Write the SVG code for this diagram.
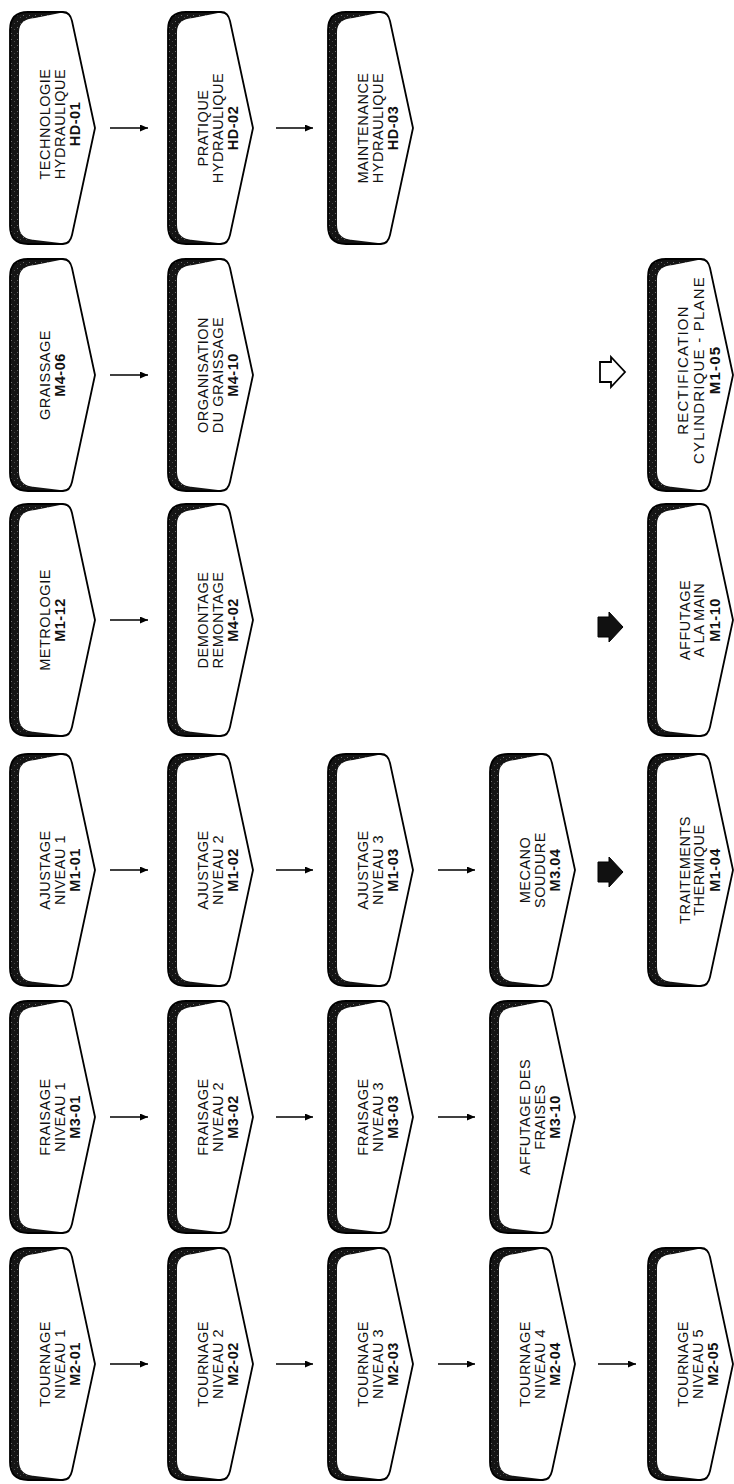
<svg xmlns="http://www.w3.org/2000/svg" xmlns:xlink="http://www.w3.org/1999/xlink" width="734" height="1484" viewBox="0 0 734 1484">
<style>
.shadow{fill:url(#stip);}
.body{fill:#ffffff;}
.outline{fill:none;stroke:#000;stroke-width:1.8;stroke-linejoin:round;}
.t{font-family:"Liberation Sans",Arial,Helvetica,sans-serif;font-size:14.5px;text-anchor:middle;letter-spacing:0.5px;fill:#111;}
.c{font-weight:bold;}
.big{font-size:15px;letter-spacing:1.2px;}
.conn{stroke:#000;stroke-width:1.3;fill:none;}
.blk{fill:#111;stroke:#000;stroke-width:1;}
.blk-o{fill:#fff;stroke:#000;stroke-width:1.8;}
</style>
<defs>
<pattern id="stip" width="6" height="6" patternUnits="userSpaceOnUse">
<rect width="6" height="6" fill="#141414"/>
<rect x="1" y="1" width="1" height="1" fill="#6e6e6e"/>
<rect x="4" y="3" width="1" height="1" fill="#4a4a4a"/>
</pattern>
<path id="outer" d="M 18,-116 L 53,-116 Q 60,-116 62,-107 L 85,0 L 62,107 Q 60,116 53,116 L 18,116 Q 0,116 0,98 L 0,-98 Q 0,-116 18,-116 Z"/>
<path id="inner" d="M 9,-96 Q 9,-109 25,-110 L 50,-115 Q 60,-116 62,-107 L 85,0 L 62,107 Q 60,116 50,115 L 25,112 Q 9,111 9,97 Z"/>
<path id="block" d="M -13,-10 L -2,-10 L -2,-15 L 12,0 L -2,15 L -2,10 L -13,10 Z"/>
<marker id="ah" markerWidth="8" markerHeight="7" refX="8" refY="3.5" orient="auto" markerUnits="userSpaceOnUse">
<path d="M0,0 L8,3.5 L0,7 Z" fill="#000"/>
</marker>
</defs>
<rect width="734" height="1484" fill="#fff"/>

<!-- Row 1 -->
<g id="n-hd01" transform="translate(10,128)"><use href="#outer" class="shadow"/><use href="#inner" class="body"/><use href="#outer" class="outline"/>
<text class="t" transform="rotate(-90)"><tspan x="4" y="40">TECHNOLOGIE</tspan><tspan x="4" y="55">HYDRAULIQUE</tspan><tspan x="4" y="70" class="c">HD-01</tspan></text></g>
<g id="n-hd02" transform="translate(168,128)"><use href="#outer" class="shadow"/><use href="#inner" class="body"/><use href="#outer" class="outline"/>
<text class="t" transform="rotate(-90)"><tspan x="0" y="40">PRATIQUE</tspan><tspan x="0" y="55">HYDRAULIQUE</tspan><tspan x="0" y="70" class="c">HD-02</tspan></text></g>
<g id="n-hd03" transform="translate(328,128)"><use href="#outer" class="shadow"/><use href="#inner" class="body"/><use href="#outer" class="outline"/>
<text class="t" transform="rotate(-90)"><tspan x="0" y="40">MAINTENANCE</tspan><tspan x="0" y="55">HYDRAULIQUE</tspan><tspan x="0" y="70" class="c">HD-03</tspan></text></g>

<!-- Row 2 -->
<g id="n-m406" transform="translate(10,375)"><use href="#outer" class="shadow"/><use href="#inner" class="body"/><use href="#outer" class="outline"/>
<text class="t" transform="rotate(-90)"><tspan x="0" y="40">GRAISSAGE</tspan><tspan x="0" y="55" class="c">M4-06</tspan></text></g>
<g id="n-m410" transform="translate(168,375)"><use href="#outer" class="shadow"/><use href="#inner" class="body"/><use href="#outer" class="outline"/>
<text class="t" transform="rotate(-90)"><tspan x="0" y="40">ORGANISATION</tspan><tspan x="0" y="55">DU GRAISSAGE</tspan><tspan x="0" y="70" class="c">M4-10</tspan></text></g>
<g id="n-m105" transform="translate(648,375)"><use href="#outer" class="shadow"/><use href="#inner" class="body"/><use href="#outer" class="outline"/>
<text class="t big" transform="rotate(-90)"><tspan x="5" y="40">RECTIFICATION</tspan><tspan x="5" y="56">CYLINDRIQUE - PLANE</tspan><tspan x="5" y="72" class="c">M1-05</tspan></text></g>

<!-- Row 3 -->
<g id="n-m112" transform="translate(10,620)"><use href="#outer" class="shadow"/><use href="#inner" class="body"/><use href="#outer" class="outline"/>
<text class="t" transform="rotate(-90)"><tspan x="0" y="40">METROLOGIE</tspan><tspan x="0" y="55" class="c">M1-12</tspan></text></g>
<g id="n-m402" transform="translate(168,620)"><use href="#outer" class="shadow"/><use href="#inner" class="body"/><use href="#outer" class="outline"/>
<text class="t" transform="rotate(-90)"><tspan x="0" y="40">DEMONTAGE</tspan><tspan x="0" y="55">REMONTAGE</tspan><tspan x="0" y="70" class="c">M4-02</tspan></text></g>
<g id="n-m110" transform="translate(648,620)"><use href="#outer" class="shadow"/><use href="#inner" class="body"/><use href="#outer" class="outline"/>
<text class="t" transform="rotate(-90)"><tspan x="0" y="42">AFFUTAGE</tspan><tspan x="0" y="56">A LA MAIN</tspan><tspan x="0" y="72" class="c">M1-10</tspan></text></g>

<!-- Row 4 -->
<g id="n-m101" transform="translate(10,870)"><use href="#outer" class="shadow"/><use href="#inner" class="body"/><use href="#outer" class="outline"/>
<text class="t" transform="rotate(-90)"><tspan x="0" y="40">AJUSTAGE</tspan><tspan x="0" y="55">NIVEAU 1</tspan><tspan x="0" y="70" class="c">M1-01</tspan></text></g>
<g id="n-m102" transform="translate(168,870)"><use href="#outer" class="shadow"/><use href="#inner" class="body"/><use href="#outer" class="outline"/>
<text class="t" transform="rotate(-90)"><tspan x="0" y="40">AJUSTAGE</tspan><tspan x="0" y="55">NIVEAU 2</tspan><tspan x="0" y="70" class="c">M1-02</tspan></text></g>
<g id="n-m103" transform="translate(328,870)"><use href="#outer" class="shadow"/><use href="#inner" class="body"/><use href="#outer" class="outline"/>
<text class="t" transform="rotate(-90)"><tspan x="0" y="40">AJUSTAGE</tspan><tspan x="0" y="55">NIVEAU 3</tspan><tspan x="0" y="70" class="c">M1-03</tspan></text></g>
<g id="n-m304" transform="translate(490,870)"><use href="#outer" class="shadow"/><use href="#inner" class="body"/><use href="#outer" class="outline"/>
<text class="t" transform="rotate(-90)"><tspan x="0" y="40">MECANO</tspan><tspan x="0" y="55">SOUDURE</tspan><tspan x="0" y="70" class="c">M3.04</tspan></text></g>
<g id="n-m104" transform="translate(648,870)"><use href="#outer" class="shadow"/><use href="#inner" class="body"/><use href="#outer" class="outline"/>
<text class="t" transform="rotate(-90)"><tspan x="0" y="42">TRAITEMENTS</tspan><tspan x="0" y="56">THERMIQUE</tspan><tspan x="0" y="72" class="c">M1-04</tspan></text></g>

<!-- Row 5 -->
<g id="n-m301" transform="translate(10,1117)"><use href="#outer" class="shadow"/><use href="#inner" class="body"/><use href="#outer" class="outline"/>
<text class="t" transform="rotate(-90)"><tspan x="0" y="40">FRAISAGE</tspan><tspan x="0" y="55">NIVEAU 1</tspan><tspan x="0" y="70" class="c">M3-01</tspan></text></g>
<g id="n-m302" transform="translate(168,1117)"><use href="#outer" class="shadow"/><use href="#inner" class="body"/><use href="#outer" class="outline"/>
<text class="t" transform="rotate(-90)"><tspan x="0" y="40">FRAISAGE</tspan><tspan x="0" y="55">NIVEAU 2</tspan><tspan x="0" y="70" class="c">M3-02</tspan></text></g>
<g id="n-m303" transform="translate(328,1117)"><use href="#outer" class="shadow"/><use href="#inner" class="body"/><use href="#outer" class="outline"/>
<text class="t" transform="rotate(-90)"><tspan x="0" y="40">FRAISAGE</tspan><tspan x="0" y="55">NIVEAU 3</tspan><tspan x="0" y="70" class="c">M3-03</tspan></text></g>
<g id="n-m310" transform="translate(490,1117)"><use href="#outer" class="shadow"/><use href="#inner" class="body"/><use href="#outer" class="outline"/>
<text class="t" transform="rotate(-90)"><tspan x="0" y="40">AFFUTAGE DES</tspan><tspan x="0" y="55">FRAISES</tspan><tspan x="0" y="70" class="c">M3-10</tspan></text></g>

<!-- Row 6 -->
<g id="n-m201" transform="translate(10,1364)"><use href="#outer" class="shadow"/><use href="#inner" class="body"/><use href="#outer" class="outline"/>
<text class="t" transform="rotate(-90)"><tspan x="0" y="40">TOURNAGE</tspan><tspan x="0" y="55">NIVEAU 1</tspan><tspan x="0" y="70" class="c">M2-01</tspan></text></g>
<g id="n-m202" transform="translate(168,1364)"><use href="#outer" class="shadow"/><use href="#inner" class="body"/><use href="#outer" class="outline"/>
<text class="t" transform="rotate(-90)"><tspan x="0" y="40">TOURNAGE</tspan><tspan x="0" y="55">NIVEAU 2</tspan><tspan x="0" y="70" class="c">M2-02</tspan></text></g>
<g id="n-m203" transform="translate(328,1364)"><use href="#outer" class="shadow"/><use href="#inner" class="body"/><use href="#outer" class="outline"/>
<text class="t" transform="rotate(-90)"><tspan x="0" y="40">TOURNAGE</tspan><tspan x="0" y="55">NIVEAU 3</tspan><tspan x="0" y="70" class="c">M2-03</tspan></text></g>
<g id="n-m204" transform="translate(490,1364)"><use href="#outer" class="shadow"/><use href="#inner" class="body"/><use href="#outer" class="outline"/>
<text class="t" transform="rotate(-90)"><tspan x="0" y="40">TOURNAGE</tspan><tspan x="0" y="55">NIVEAU 4</tspan><tspan x="0" y="70" class="c">M2-04</tspan></text></g>
<g id="n-m205" transform="translate(648,1364)"><use href="#outer" class="shadow"/><use href="#inner" class="body"/><use href="#outer" class="outline"/>
<text class="t" transform="rotate(-90)"><tspan x="0" y="40">TOURNAGE</tspan><tspan x="0" y="55">NIVEAU 5</tspan><tspan x="0" y="70" class="c">M2-05</tspan></text></g>

<g id="connectors">
<path class="conn" marker-end="url(#ah)" d="M110,128 H148"/>
<path class="conn" marker-end="url(#ah)" d="M276,128 H313"/>
<path class="conn" marker-end="url(#ah)" d="M110,375 H148"/>
<path class="conn" marker-end="url(#ah)" d="M110,620 H148"/>
<path class="conn" marker-end="url(#ah)" d="M110,870 H148"/>
<path class="conn" marker-end="url(#ah)" d="M276,870 H313"/>
<path class="conn" marker-end="url(#ah)" d="M438,870 H475"/>
<path class="conn" marker-end="url(#ah)" d="M110,1117 H148"/>
<path class="conn" marker-end="url(#ah)" d="M276,1117 H313"/>
<path class="conn" marker-end="url(#ah)" d="M438,1117 H475"/>
<path class="conn" marker-end="url(#ah)" d="M110,1364 H148"/>
<path class="conn" marker-end="url(#ah)" d="M276,1364 H313"/>
<path class="conn" marker-end="url(#ah)" d="M438,1364 H475"/>
<path class="conn" marker-end="url(#ah)" d="M598,1364 H636"/>
<use href="#block" class="blk-o" transform="translate(613,372)"/>
<use href="#block" class="blk" transform="translate(611,627)"/>
<use href="#block" class="blk" transform="translate(611,872)"/>
</g>
</svg>
